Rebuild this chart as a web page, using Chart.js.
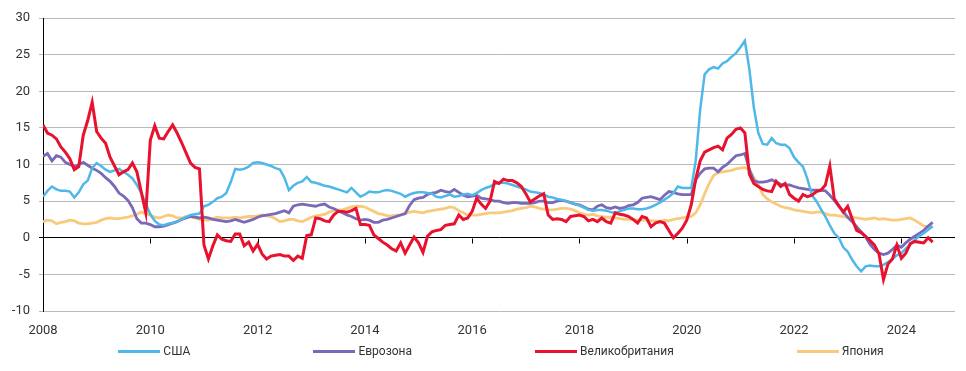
<!DOCTYPE html>
<html>
<head>
<meta charset="utf-8">
<script src="https://cdn.jsdelivr.net/npm/chart.js@4.4.1/dist/chart.umd.min.js"></script>
<style>
  body { margin: 0; background: #fff; }
  #wrap { position: relative; width: 966px; height: 371px; }
  #legend {
    position: absolute; left: 36px; width: 930px; top: 344px;
    display: flex; justify-content: center; gap: 123px;
    font: 12px Roboto, sans-serif; color: #333;
  }
  .item { display: flex; align-items: center; white-space: nowrap; }
  .item i { display: inline-block; width: 42px; height: 3px; margin-right: 3px; }
</style>
</head>
<body>
<div id="wrap">
  <canvas id="graf" width="966" height="371"></canvas>
  <div id="legend"></div>
</div>
<script>
// помесячные данные, янв 2008 - авг 2024
const startYear = 2008
const xTicks = [2008, 2010, 2012, 2014, 2016, 2018, 2020, 2022, 2024]

const usa = [
  5.6, 6.4, 7.0, 6.6, 6.4, 6.4, 6.3, 5.5, 6.2, 7.3, 7.8, 9.5,
  10.2, 9.8, 9.3, 9.0, 9.2, 9.4, 9.0, 8.6, 8.1, 7.2, 6.1, 4.6,
  3.2, 2.3, 1.8, 1.7, 1.9, 2.0, 2.2, 2.5, 2.8, 3.1, 3.2, 3.3,
  4.3, 4.5, 4.9, 5.4, 5.6, 6.1, 7.6, 9.4, 9.3, 9.4, 9.7, 10.2,
  10.3, 10.2, 10.0, 9.8, 9.5, 9.3, 8.2, 6.5, 7.1, 7.5, 7.7, 8.3,
  7.6, 7.5, 7.3, 7.1, 7.0, 6.8, 6.6, 6.4, 6.2, 6.8, 6.2, 5.6,
  5.9, 6.3, 6.2, 6.2, 6.4, 6.5, 6.4, 6.2, 6.0, 5.6, 5.9, 6.1,
  6.2, 6.2, 6.1, 6.0, 5.6, 5.5, 5.7, 5.9, 5.6, 5.7, 5.9, 6.0,
  5.8, 6.1, 6.5, 6.8, 7.0, 7.3, 7.5, 7.5, 7.4, 7.2, 7.0, 6.8,
  6.6, 6.3, 6.2, 6.1, 5.9, 5.6, 5.5, 5.3, 5.2, 5.0, 4.8, 4.6,
  4.4, 4.1, 3.8, 3.7, 3.8, 3.8, 3.7, 3.5, 3.4, 3.6, 3.8, 4.0,
  4.0, 3.9, 3.9, 4.0, 4.2, 4.5, 4.8, 5.2, 5.6, 6.1, 7.0, 6.8,
  6.8, 6.8, 10.5, 17.5, 22.3, 23.0, 23.3, 23.1, 23.8, 24.1, 24.7, 25.2,
  26.0, 26.9, 23.0, 17.8, 14.3, 12.8, 12.7, 13.6, 12.9, 12.7, 12.7, 12.2,
  11.0, 10.3, 9.7, 8.0, 5.8, 5.0, 3.9, 2.9, 1.7, 0.6, 0.0, -1.3,
  -1.9, -3.0, -3.9, -4.6, -3.9, -3.8, -3.9, -3.9, -3.7, -3.3, -2.9, -2.4,
  -2.1, -1.5, -0.9, -0.3, 0.2, 0.6, 1.1, 1.6
]

const eurozone = [
  11.1, 11.5, 10.5, 11.2, 11.0, 10.3, 10.0, 9.7, 10.0, 10.3, 9.9, 9.5,
  9.2, 8.8, 8.2, 7.7, 7.0, 6.1, 5.7, 5.1, 4.1, 2.6, 2.0, 2.0,
  1.8, 1.5, 1.5, 1.6, 1.8, 2.0, 2.2, 2.5, 2.7, 2.9, 2.8, 2.7,
  2.8, 2.7, 2.5, 2.4, 2.3, 2.2, 2.3, 2.5, 2.3, 2.1, 2.3, 2.5,
  2.8, 3.0, 3.1, 3.2, 3.3, 3.5, 3.7, 3.4, 4.3, 4.5, 4.6, 4.5,
  4.4, 4.3, 4.5, 4.6, 4.2, 4.0, 3.7, 3.4, 3.1, 2.9, 2.6, 2.4,
  2.5, 2.4, 2.1, 2.1, 2.4, 2.5, 2.7, 2.9, 3.1, 3.3, 4.4, 5.2,
  5.4, 5.5, 5.9, 6.1, 6.2, 6.5, 6.3, 6.2, 6.6, 6.2, 5.8, 5.6,
  5.7, 5.8, 5.4, 5.3, 5.2, 5.0, 5.0, 4.8, 4.7, 4.8, 4.8, 4.7,
  4.7, 4.7, 4.8, 5.0, 5.0, 4.8, 4.8, 5.0, 5.1, 5.0, 4.8, 4.6,
  4.5, 4.2, 3.9, 3.8, 4.3, 4.5, 4.1, 4.0, 4.2, 4.0, 4.1, 4.4,
  4.5, 4.8, 5.4, 5.5, 5.6, 5.4, 5.2, 5.8, 6.3, 6.2, 6.0, 5.9,
  5.9, 5.9, 7.9, 8.8, 9.4, 9.5, 9.5, 9.0, 9.6, 10.0, 10.6, 11.2,
  11.3, 11.5, 9.3, 7.8, 7.6, 7.6, 7.7, 7.9, 7.6, 7.3, 7.2, 7.2,
  7.0, 6.8, 6.7, 6.6, 6.5, 6.5, 6.5, 6.4, 5.8, 5.1, 4.3, 3.6,
  2.8, 2.2, 1.5, 0.8, 0.1, -0.9, -1.6, -2.1, -2.3, -2.1, -1.6, -1.0,
  -1.3, -0.7, -0.2, 0.2, 0.6, 1.0, 1.6, 2.1
]

const uk = [
  15.4, 14.3, 14.0, 13.5, 12.4, 11.7, 10.8, 9.3, 9.7, 14.0, 16.0, 18.5,
  14.5, 13.6, 12.9, 11.0, 9.8, 8.6, 9.0, 9.3, 10.2, 9.0, 6.2, 3.4,
  13.3, 15.3, 13.6, 13.5, 14.5, 15.4, 14.3, 13.0, 11.6, 10.2, 9.6, 9.4,
  -1.0, -2.9, -1.1, 0.4, -0.2, -0.4, -0.5, 0.5, 0.5, -1.1, -0.6, -1.8,
  -0.9, -2.2, -2.9, -2.5, -2.4, -2.3, -2.5, -2.5, -3.1, -2.5, -2.8, 0.3,
  0.4, 2.7, 2.6, 2.3, 2.2, 3.1, 3.6, 3.6, 3.5, 3.7, 4.0, 1.8,
  1.8, 1.7, 0.4, -0.1, -0.6, -1.0, -1.5, -1.8, -0.7, -2.1, -1.0, 0.1,
  -0.7, -2.0, 0.2, 0.8, 1.0, 1.1, 1.7, 1.8, 1.9, 3.1, 2.5, 2.7,
  3.6, 5.4, 4.6, 4.0, 5.0, 7.7, 7.4, 8.0, 7.8, 7.8, 7.5, 7.0,
  6.0, 4.9, 5.3, 5.7, 6.0, 3.1, 2.5, 2.6, 2.5, 2.2, 2.9, 3.0,
  3.1, 2.9, 2.3, 2.5, 2.2, 2.7, 2.2, 2.0, 3.4, 3.2, 3.1, 2.9,
  2.5, 2.0, 2.9, 2.7, 1.5, 2.0, 2.2, 2.0, 1.0, 0.0, 0.6, 1.3,
  2.4, 4.5, 8.0, 10.5, 11.7, 12.0, 12.3, 12.5, 12.0, 13.6, 14.1, 14.8,
  15.0, 14.3, 8.7, 7.4, 7.0, 6.6, 6.4, 6.3, 7.7, 7.0, 7.4, 5.9,
  5.4, 5.0, 5.9, 5.6, 5.8, 6.3, 6.5, 7.2, 9.8, 5.3, 4.4, 3.5,
  4.3, 2.6, 1.0, 0.7, 0.2, -0.4, -1.0, -2.2, -5.7, -3.6, -2.9, -1.0,
  -2.8, -2.1, -0.8, -0.5, -0.6, -0.7, 0.0, -0.6
]

const japan = [
  2.2, 2.4, 2.3, 1.9, 2.1, 2.2, 2.4, 2.3, 2.0, 1.9, 1.9, 2.0,
  2.1, 2.4, 2.6, 2.7, 2.6, 2.6, 2.7, 2.8, 3.0, 3.2, 3.5, 3.3,
  3.1, 2.8, 2.7, 2.9, 3.1, 3.0, 2.7, 2.7, 2.9, 2.9, 2.7, 2.5,
  2.4, 2.4, 2.6, 2.8, 2.7, 2.7, 2.7, 2.8, 2.7, 2.8, 2.9, 2.9,
  3.0, 3.1, 3.0, 2.9, 2.6, 2.2, 2.3, 2.5, 2.5, 2.3, 2.2, 2.5,
  2.8, 3.0, 3.1, 3.2, 3.5, 3.7, 3.8, 3.8, 4.0, 4.2, 4.3, 4.3,
  4.2, 3.9, 3.6, 3.3, 3.2, 3.0, 3.0, 3.1, 3.1, 3.3, 3.5, 3.6,
  3.5, 3.4, 3.6, 3.7, 3.8, 3.9, 4.0, 4.2, 4.1, 3.7, 3.4, 3.1,
  3.1, 3.1, 3.2, 3.3, 3.4, 3.4, 3.4, 3.5, 3.6, 3.7, 3.9, 4.0,
  4.1, 4.3, 4.2, 4.0, 3.9, 3.8, 3.8, 3.9, 4.0, 4.0, 3.9, 3.7,
  3.4, 3.2, 3.1, 3.2, 3.0, 2.9, 2.8, 2.8, 2.7, 2.6, 2.5, 2.5,
  2.5, 2.4, 2.4, 2.4, 2.3, 2.3, 2.2, 2.4, 2.3, 2.5, 2.6, 2.7,
  2.8, 2.9, 3.4, 4.5, 6.0, 7.4, 8.5, 8.9, 9.0, 9.1, 9.2, 9.4,
  9.5, 9.6, 9.3, 8.2, 7.2, 5.9, 5.3, 4.9, 4.6, 4.3, 4.1, 4.0,
  3.8, 3.7, 3.6, 3.5, 3.4, 3.5, 3.5, 3.3, 3.1, 3.1, 3.0, 2.9,
  2.8, 2.8, 2.7, 2.6, 2.5, 2.6, 2.7, 2.5, 2.6, 2.5, 2.4, 2.4,
  2.5, 2.6, 2.7, 2.4, 2.0, 1.6, 1.5, 1.4
]

const series = [
  { nombre: 'США', data: usa, color: '#4fb8e8', width: 2.5, order: 1 },
  { nombre: 'Еврозона', data: eurozone, color: '#7a68b8', width: 2.8, order: 2 },
  { nombre: 'Великобритания', data: uk, color: '#e8112e', width: 3, order: 0 },
  { nombre: 'Япония', data: japan, color: '#f9c97c', width: 2.8, order: 3 }
]

Chart.defaults.font.family = 'Roboto, sans-serif'
Chart.defaults.font.size = 13
Chart.defaults.color = '#333'

//marcas pequeñas bajo la linea del cero
const marcasCero = {
  id: 'marcasCero',
  beforeDatasetsDraw(chart) {
    const { ctx, scales: { x, y } } = chart
    const y0 = Math.round(y.getPixelForValue(0)) + 0.5
    ctx.save()
    ctx.strokeStyle = '#000'
    ctx.lineWidth = 1
    xTicks.forEach(v => {
      const px = Math.round(x.getPixelForValue(v)) + 0.5
      ctx.beginPath()
      ctx.moveTo(px, y0)
      ctx.lineTo(px, y0 + 5)
      ctx.stroke()
    })
    ctx.restore()
  }
}

new Chart('graf', {
  type: 'line',
  data: {
    datasets: series.map(s => ({
      label: s.nombre,
      data: s.data.map((v, i) => ({ x: startYear + i / 12, y: v })),
      borderColor: s.color,
      borderWidth: s.width,
      pointRadius: 0,
      tension: 0,
      order: s.order
    }))
  },
  options: {
    responsive: false,
    animation: false,
    layout: { padding: { top: 18, right: 11, bottom: 35, left: 0 } },
    plugins: { legend: { display: false }, tooltip: { enabled: false } },
    scales: {
      x: {
        type: 'linear',
        min: 2008,
        max: 2025,
        afterBuildTicks: s => { s.ticks = xTicks.map(v => ({ value: v })) },
        afterFit: s => { s.height = 25 },
        grid: { display: false, drawTicks: false },
        border: { display: false },
        ticks: { padding: 12, maxRotation: 0, autoSkip: false, callback: v => String(v) }
      },
      y: {
        min: -10,
        max: 30,
        afterFit: s => { s.width = 43 },
        ticks: { stepSize: 5, padding: 9 },
        grid: {
          color: c => c.tick && c.tick.value === 0 ? '#000' : '#b9b9b9',
          tickLength: 4
        },
        border: { color: '#000' }
      }
    }
  },
  plugins: [marcasCero]
})

// leyenda
const legend = document.getElementById('legend')
series.forEach(s => {
  const item = document.createElement('div')
  item.className = 'item'
  item.innerHTML = `<i style="background:${s.color}"></i><span>${s.nombre}</span>`
  legend.appendChild(item)
})
</script>
</body>
</html>
